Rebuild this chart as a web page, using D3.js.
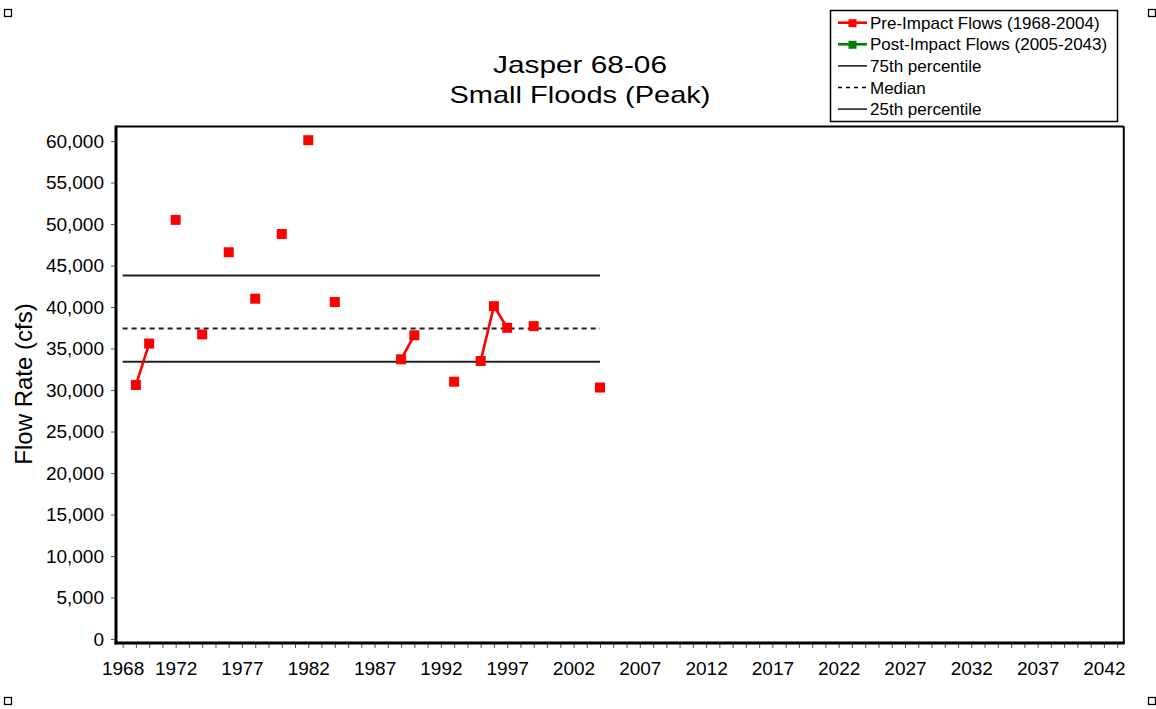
<!DOCTYPE html>
<html><head><meta charset="utf-8">
<script src="https://cdn.jsdelivr.net/npm/d3@7"></script>
<style>
body{margin:0;background:#fff}
text{font-family:Arial,"Liberation Sans",sans-serif;fill:#000}
</style>
</head><body>
<svg id="c" width="1156" height="709"></svg>
<script>
// ---- data ----
const titleLines = ["Jasper 68-06", "Small Floods (Peak)"];
const yAxisTitle = "Flow Rate (cfs)";
const preYears = [1969, 1970, 1972, 1974, 1976, 1978, 1980, 1982, 1984, 1989, 1990, 1993, 1995, 1996, 1997, 1999, 2004];
const preFlows = [30600, 35600, 50500, 36700, 46600, 41000, 48800, 60100, 40600, 33700, 36600, 31000, 33500, 40100, 37500, 37700, 30300];
const prePeriod = [1968, 2004];
const postYears = [];
const postFlows = [];
const percentileNames = ["75th percentile", "Median", "25th percentile"];
const percentileValues = [43800, 37400, 33400];
const xTickLabels = [1968, 1972, 1977, 1982, 1987, 1992, 1997, 2002, 2007, 2012, 2017, 2022, 2027, 2032, 2037, 2042];
const xMinorTicks = d3.range(1968, 2044);
const yTickValues = [0, 5000, 10000, 15000, 20000, 25000, 30000, 35000, 40000, 45000, 50000, 55000, 60000];
const legendLabels = ["Pre-Impact Flows (1968-2004)", "Post-Impact Flows (2005-2043)", "75th percentile", "Median", "25th percentile"];

// ---- layout ----
const svg = d3.select("#c");
const L = 116, R = 1123.8, T = 126.5, B = 643;
const x = d3.scaleLinear().domain([1967.5, 2043.5]).range([L, R]);
const y = d3.scaleLinear().domain([-480, 61750]).range([B, T]);

// corner handles
[[4.5, 9.5], [1148.5, 9.5], [4.5, 697.5], [1148.5, 697.5]].forEach(([cx, cy]) => {
  svg.append("rect").attr("x", cx).attr("y", cy).attr("width", 7).attr("height", 7)
    .attr("fill", "#fff").attr("stroke", "#000").attr("stroke-width", 1.3);
});

// title
const tLens = [174, 261];
titleLines.forEach((t, i) => {
  svg.append("text").attr("x", 580).attr("y", 73 + i * 30)
    .attr("text-anchor", "middle").attr("font-size", 24)
    .attr("textLength", tLens[i]).attr("lengthAdjust", "spacingAndGlyphs")
    .text(t);
});

// y axis title
svg.append("text").attr("transform", "translate(32,384) rotate(-90)")
  .attr("text-anchor", "middle").attr("font-size", 24).attr("fill", "#222").text(yAxisTitle);

// axes
const yAxis = d3.axisLeft(y).tickValues(yTickValues).tickSize(5).tickPadding(7).tickFormat(d3.format(","));
const gy = svg.append("g").attr("transform", `translate(${L},0)`).call(yAxis);
gy.select(".domain").remove();
gy.selectAll(".tick line").attr("stroke", "#555");
gy.selectAll(".tick text").attr("font-size", 19).attr("font-family", "Arial, 'Liberation Sans', sans-serif").attr("fill", "#111");

const xAxis = d3.axisBottom(x).tickValues(xMinorTicks).tickSize(5)
  .tickFormat(d => xTickLabels.includes(d) ? String(d) : "");
const gx = svg.append("g").attr("transform", `translate(0,${B})`).call(xAxis);
gx.select(".domain").remove();
gx.selectAll(".tick line").attr("stroke", "#555");
gx.selectAll(".tick text").attr("dy", null).attr("y", 32).attr("font-size", 19)
  .attr("font-family", "Arial, 'Liberation Sans', sans-serif").attr("fill", "#111");

// frame
svg.append("line").attr("x1", L).attr("x2", R).attr("y1", T).attr("y2", T).attr("stroke", "#000").attr("stroke-width", 2);
svg.append("line").attr("x1", R).attr("x2", R).attr("y1", T).attr("y2", B).attr("stroke", "#000").attr("stroke-width", 2);
svg.append("line").attr("x1", L).attr("x2", L).attr("y1", T - 1).attr("y2", B + 1.5).attr("stroke", "#000").attr("stroke-width", 3);
svg.append("line").attr("x1", L - 1.5).attr("x2", R + 1).attr("y1", B).attr("y2", B).attr("stroke", "#000").attr("stroke-width", 3);

// percentile lines
const dashes = [null, "5,4", null];
percentileValues.forEach((v, i) => {
  svg.append("line").attr("x1", x(prePeriod[0])).attr("x2", x(prePeriod[1]))
    .attr("y1", y(v)).attr("y2", y(v))
    .attr("stroke", "#222").attr("stroke-width", 2)
    .attr("stroke-dasharray", dashes[i]);
});

// series
function drawSeries(years, flows, period, color) {
  const byYear = new Map(years.map((yr, i) => [yr, flows[i]]));
  const full = d3.range(period[0], period[1] + 1).map(yr => ({ yr, v: byYear.has(yr) ? byYear.get(yr) : null }));
  const line = d3.line().defined(d => d.v != null).x(d => x(d.yr)).y(d => y(d.v));
  svg.append("path").datum(full).attr("d", line).attr("fill", "none")
    .attr("stroke", color).attr("stroke-width", 2.6);
  svg.append("g").selectAll("rect").data(years.map((yr, i) => ({ yr, v: flows[i] }))).join("rect")
    .attr("x", d => x(d.yr) - 5).attr("y", d => y(d.v) - 5)
    .attr("width", 10).attr("height", 10).attr("fill", color);
}
drawSeries(preYears, preFlows, prePeriod, "#ff0000");
drawSeries(postYears, postFlows, [2005, 2043], "#008000");

// legend
const lg = svg.append("g");
lg.append("rect").attr("x", 830.5).attr("y", 10.5).attr("width", 287).attr("height", 111)
  .attr("fill", "#fff").attr("stroke", "#000").attr("stroke-width", 1.5);
const legendColors = ["#ff0000", "#008000", "#000", "#000", "#000"];
legendLabels.forEach((lab, i) => {
  const cy = 22.7 + i * 21.6;
  const isSeries = i < 2;
  lg.append("line").attr("x1", 838).attr("x2", 867).attr("y1", cy).attr("y2", cy)
    .attr("stroke", legendColors[i]).attr("stroke-width", isSeries ? 2.6 : 1.4)
    .attr("stroke-dasharray", i === 3 ? "4,4" : null);
  if (isSeries) {
    lg.append("rect").attr("x", 848.5).attr("y", cy - 3.5).attr("width", 8).attr("height", 8)
      .attr("fill", legendColors[i]);
  }
  lg.append("text").attr("x", 870).attr("y", cy).attr("dy", "0.36em")
    .attr("font-size", 17).text(lab);
});
</script>
</body></html>
